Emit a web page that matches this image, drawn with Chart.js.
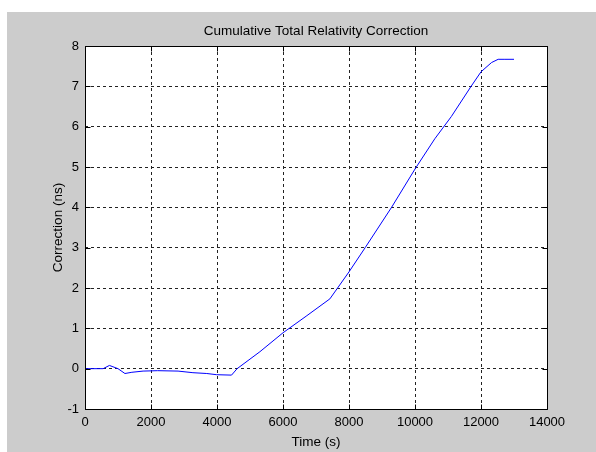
<!DOCTYPE html>
<html>
<head>
<meta charset="utf-8">
<title>Cumulative Total Relativity Correction</title>
<script src="https://cdn.jsdelivr.net/npm/chart.js@4/dist/chart.umd.min.js"></script>
<style>
  html, body { margin: 0; padding: 0; background: #fff; }
  canvas { display: block; }
</style>
</head>
<body>
<canvas id="relChart" width="596" height="452"></canvas>
<script>
// time (s) and cumulative correction (ns)
const times = [0, 550, 740, 1000, 1210, 1420, 1760, 2200, 2820, 3270, 3690, 3990, 4440, 4610,
  5300, 6000, 6700, 7420, 8000, 8490, 9290, 10000, 10600, 11100, 11700, 12000, 12320, 12520, 12700, 13000];
const correction = [0, 0, 0.08, 0, -0.12, -0.09, -0.06, -0.05, -0.06, -0.1, -0.12, -0.15, -0.16, 0,
  0.42, 0.89, 1.3, 1.73, 2.4, 3, 4, 4.95, 5.7, 6.25, 7, 7.36, 7.59, 7.67, 7.67, 7.67];
const xTicks = [0, 2000, 4000, 6000, 8000, 10000, 12000, 14000];
const yTicks = [-1, 0, 1, 2, 3, 4, 5, 6, 7, 8];

const FONT = "'Liberation Sans', Arial, sans-serif";

// gray figure, white axes, black box with inward ticks (matlab look)
const matlabFrame = {
  id: 'matlabFrame',
  beforeDraw(chart) {
    const ctx = chart.ctx, a = chart.chartArea;
    ctx.save();
    ctx.fillStyle = '#ffffff';
    ctx.fillRect(0, 0, chart.width, chart.height);
    ctx.fillStyle = '#cccccc';
    ctx.fillRect(7, 12, chart.width - 7, chart.height - 12);
    ctx.fillStyle = '#ffffff';
    ctx.fillRect(a.left, a.top, a.right - a.left, a.bottom - a.top);
    ctx.restore();
  },
  afterDraw(chart) {
    const ctx = chart.ctx, a = chart.chartArea;
    const xs = chart.scales.x, ys = chart.scales.y;
    const L = Math.round(a.left) + 0.5, R = Math.round(a.right) + 0.5;
    const T = Math.round(a.top) + 0.5, B = Math.round(a.bottom) + 0.5;
    ctx.save();
    ctx.strokeStyle = '#000';
    ctx.lineWidth = 1;
    ctx.setLineDash([]);
    ctx.beginPath();
    ctx.rect(L, T, R - L, B - T);
    xTicks.forEach(v => {
      const p = Math.round(xs.getPixelForValue(v)) + 0.5;
      ctx.moveTo(p, B); ctx.lineTo(p, B - 5);
      ctx.moveTo(p, T); ctx.lineTo(p, T + 5);
    });
    yTicks.forEach(v => {
      const p = Math.round(ys.getPixelForValue(v)) + 0.5;
      ctx.moveTo(L, p); ctx.lineTo(L + 5, p);
      ctx.moveTo(R, p); ctx.lineTo(R - 5, p);
    });
    ctx.stroke();
    ctx.restore();
  }
};

const ctx = document.getElementById('relChart').getContext('2d');
new Chart(ctx, {
  type: 'line',
  data: {
    datasets: [{
      data: times.map((t, i) => ({ x: t, y: correction[i] })),
      borderColor: '#0000ff',
      borderWidth: 1,
      pointRadius: 0,
      tension: 0,
      fill: false
    }]
  },
  options: {
    responsive: false,
    animation: false,
    devicePixelRatio: 1,
    layout: { padding: { top: 12, right: 49, bottom: 0, left: 0 } },
    plugins: {
      legend: { display: false },
      tooltip: { enabled: false },
      title: {
        display: true,
        fullSize: false,
        text: 'Cumulative Total Relativity Correction',
        color: '#000',
        font: { family: FONT, size: 13.5, weight: 'normal' },
        padding: { top: 11, bottom: 6.8 }
      }
    },
    scales: {
      x: {
        type: 'linear',
        min: 0, max: 14000,
        afterBuildTicks: s => { s.ticks = xTicks.map(v => ({ value: v })); },
        afterFit: s => { s.height = 43; },
        ticks: { color: '#000', padding: 6, maxRotation: 0, font: { family: FONT, size: 13 }, callback: v => String(v) },
        grid: { color: '#222', lineWidth: 1, drawTicks: false },
        border: { display: false, dash: [3, 3] },
        title: { display: true, text: 'Time (s)', color: '#000', font: { family: FONT, size: 13.5 }, padding: { top: 0, bottom: 2 } }
      },
      y: {
        min: -1, max: 8,
        afterBuildTicks: s => { s.ticks = yTicks.map(v => ({ value: v })); },
        afterFit: s => { s.width = 85; },
        ticks: { color: '#000', padding: 6, font: { family: FONT, size: 13 }, callback: v => String(v) },
        grid: { color: '#222', lineWidth: 1, drawTicks: false },
        border: { display: false, dash: [3, 3] },
        title: { display: true, text: 'Correction (ns)', color: '#000', font: { family: FONT, size: 13.5 }, padding: { top: 50, bottom: 0 } }
      }
    }
  },
  plugins: [matlabFrame]
});
</script>
</body>
</html>
